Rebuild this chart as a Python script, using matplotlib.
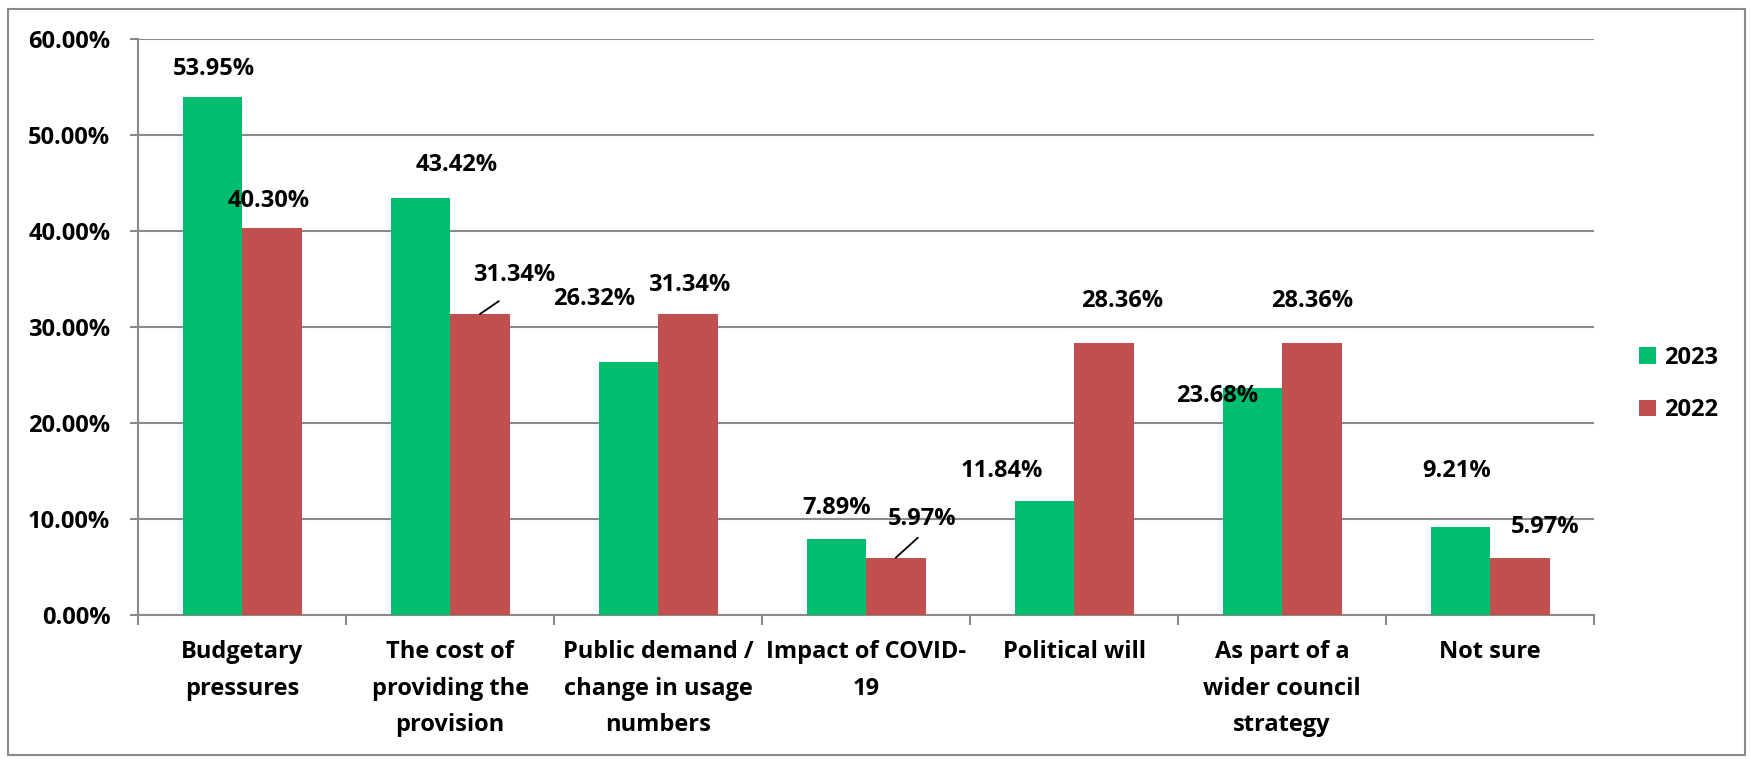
import matplotlib.pyplot as plt
import numpy as np
from matplotlib.patches import Rectangle

# Data
categories = ["Budgetary\npressures", "The cost of\nproviding the\nprovision",
              "Public demand /\nchange in usage\nnumbers", "Impact of COVID-\n19",
              "Political will", "As part of a\nwider council\nstrategy", "Not sure"]
values_2023 = [53.95, 43.42, 26.32, 7.89, 11.84, 23.68, 9.21]
values_2022 = [40.30, 31.34, 31.34, 5.97, 28.36, 28.36, 5.97]
series_names = ["2023", "2022"]
yticks = [0, 10, 20, 30, 40, 50, 60]

green = "#00BE6E"
red = "#C0504D"
grid_col = "#8A8A8A"
fs = 17

plt.rcParams['font.family'] = ['Open Sans', 'DejaVu Sans']
plt.rcParams['font.weight'] = 'bold'

fig = plt.figure(figsize=(17.5, 7.59), dpi=100)
ax = fig.add_axes([0.0789, 0.1897, 0.8320, 0.7589])

x = np.arange(1, len(categories) + 1)
w = 0.286
b1 = ax.bar(x - w / 2, values_2023, w, color=green, label=series_names[0], zorder=3)
b2 = ax.bar(x + w / 2, values_2022, w, color=red, label=series_names[1], zorder=3)

ax.set_xlim(0.5, len(categories) + 0.5)
ax.set_ylim(0, 60)
ax.set_yticks(yticks)
ax.set_yticklabels([f"{t:.2f}%" for t in yticks], fontsize=fs, fontweight='bold')
ax.yaxis.grid(True, color=grid_col, linewidth=1.5, zorder=0)
ax.tick_params(axis='y', length=6, width=1.5, color=grid_col, pad=14)

ax.set_xticks(x)
ax.set_xticklabels(categories, fontsize=fs, fontweight='bold', linespacing=1.7)
ax.set_xticks(np.arange(0.5, len(categories) + 1, 1), minor=True)
ax.tick_params(axis='x', which='major', length=0, pad=18)
ax.tick_params(axis='x', which='minor', length=7, width=1.5, color=grid_col)

for s in ['top', 'right']:
    ax.spines[s].set_visible(False)
for s in ['left', 'bottom']:
    ax.spines[s].set_color(grid_col)
    ax.spines[s].set_linewidth(1.5)

# label offsets in pixels (dx, dy) relative to bar top
off_2023 = [(2, 28), (36, 33), (-34, 63), (0, 31), (-43, 30), (-35, -8), (-4, 56)]
off_2022 = [(-3, 27), (34, 39), (1, 29), (26, 39), (18, 42), (0, 42), (25, 31)]
k = 0.72  # px -> points

for bars, vals, offs in [(b1, values_2023, off_2023), (b2, values_2022, off_2022)]:
    for bar, v, (dx, dy) in zip(bars, vals, offs):
        xc = bar.get_x() + bar.get_width() / 2
        ax.annotate(f"{v:.2f}%", xy=(xc, v), xytext=(dx * k, dy * k),
                    textcoords='offset points', ha='center', va='center',
                    fontsize=fs, fontweight='bold', zorder=5)

# leader lines for moved labels
for i, (ex, ey) in [(1, (19, 13)), (3, (22, 20))]:
    bar = b2[i]
    xc = bar.get_x() + bar.get_width() / 2
    ax.annotate("", xy=(xc, values_2022[i]), xytext=(ex * k, ey * k),
                textcoords='offset points',
                arrowprops=dict(arrowstyle='-', color='black', lw=1.3,
                                shrinkA=0, shrinkB=0), zorder=6)

ax.legend(loc='center left', bbox_to_anchor=(0.9366, 0.494),
          bbox_transform=fig.transFigure, frameon=False,
          borderpad=0, borderaxespad=0,
          handlelength=0.72, handleheight=0.72, handletextpad=0.35,
          labelspacing=1.2, prop={'weight': 'bold', 'size': fs})

fig.patches.append(Rectangle((8 / 1750, 4 / 759), 1737 / 1750, 746 / 759,
                             transform=fig.transFigure, fill=False,
                             edgecolor=grid_col, linewidth=1.5))

plt.savefig("out.png", dpi=100)
